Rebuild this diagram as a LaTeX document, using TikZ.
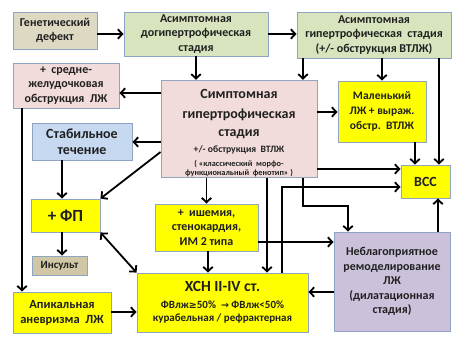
\documentclass[tikz,border=0pt]{standalone}
\usepackage{fontspec}
\setmainfont{Carlito}
\newfontfamily\symf{DejaVu Sans}
\usetikzlibrary{arrows.meta}
\definecolor{tanc}{HTML}{DDD9C3}
\definecolor{tanb}{HTML}{CFC7A6}
\definecolor{greenc}{HTML}{D7E4BD}
\definecolor{pinkc}{HTML}{F2DCDB}
\definecolor{bluec}{HTML}{C6D9F1}
\definecolor{yelc}{HTML}{FFFF00}
\definecolor{lavc}{HTML}{CCC1DA}
\definecolor{bordc}{HTML}{8EA4C2}
\definecolor{txtc}{HTML}{202020}
\newcommand{\fs}[2]{\fontsize{#1}{#2}\selectfont}
\begin{document}
\begin{tikzpicture}[x=1pt,y=-1pt,
  box/.style={draw=bordc, line width=0.9pt, align=center, text=txtc, inner sep=1pt,
    font=\bfseries\fs{12}{14.5}},
  arr/.style={line width=1.8pt, -{Straight Barb[length=4.5pt,width=9.5pt]}},
  darr/.style={line width=1.8pt, {Straight Barb[length=4.5pt,width=9.5pt]}-{Straight Barb[length=4.5pt,width=9.5pt]}}]
\path[use as bounding box, fill=white] (0,0) rectangle (462,343);

\node[box, fill=tanc, minimum width=84pt, minimum height=37pt] (gen) at (55,30.5) {Генетический\\дефект};
\node[box, fill=greenc, minimum width=144pt, minimum height=44pt] (asym1) at (196,34) {Асимптомная\\догипертрофическая\\стадия};
\node[box, fill=greenc, minimum width=154pt, minimum height=46pt] (asym2) at (374,35) {Асимптомная\\гипертрофическая\ \ стадия\\(+/- обструкция ВТЛЖ)};
\node[box, fill=pinkc, minimum width=106pt, minimum height=45pt] (obstr) at (66,85.5) {+\ \ средне-\\желудочковая\\обструкция\ \ ЛЖ};
\node[box, fill=pinkc, minimum width=156pt, minimum height=96pt, font=\bfseries\fs{14}{9}] (sympt) at (239,129) {\mbox{}\\[7.5pt]Симптомная\\[9pt]гипертрофическая\\[8pt]стадия\\[5.7pt]\fs{9.7}{9}+/- обструкция\ \ ВТЛЖ\\[4.6pt]\fs{8.3}{9}( «классический\ \ морфо-\\[0.3pt]\fs{8.3}{9}функциональный\ \ фенотип» )};
\node[box, fill=bluec, minimum width=100pt, minimum height=37pt, font=\bfseries\fs{14}{16.5}] (stab) at (82,141.5) {Стабильное\\течение};
\node[box, fill=yelc, minimum width=88pt, minimum height=61pt, font=\bfseries\fs{11.5}{15}] (small) at (382,111.5) {Маленький\\ЛЖ + выраж.\\обстр.\ \ ВТЛЖ};
\node[box, fill=yelc, minimum width=49pt, minimum height=33pt, font=\bfseries\fs{14}{16}] (vss) at (425.5,181.5) {ВСС};
\node[box, fill=yelc, minimum width=69pt, minimum height=33pt, font=\bfseries\fs{17}{19}] (fp) at (65.5,215.5) {+ ФП};
\node[box, fill=yelc, minimum width=103pt, minimum height=47pt] (isch) at (206.5,227.5) {+\ \ ишемия,\\стенокардия,\\ИМ 2 типа};
\node[box, fill=tanb, minimum width=55pt, minimum height=19pt, font=\bfseries\fs{11}{12}] (insult) at (59.5,265.5) {Инсульт};
\node[box, fill=lavc, minimum width=116pt, minimum height=99pt] (remod) at (392,281.5) {Неблагоприятное\\ремоделирование\\ЛЖ\\(дилатационная\\стадия)};
\node[box, fill=yelc, minimum width=171pt, minimum height=59pt, font=\bfseries\fs{15.5}{11}] (hsn) at (222.5,302.5) {ХСН II-IV ст.\\[6pt]\fs{11}{11}ФВлж{\symf\fs{9.5}{10}≥}50\%\ \ {\symf\fs{9.5}{10}→}\ ФВлж<50\%\\[2.5pt]\fs{11}{11}курабельная / рефрактерная};
\node[box, fill=yelc, minimum width=98pt, minimum height=41pt, font=\bfseries\fs{12.5}{15}] (apic) at (62,312.5) {Апикальная\\аневризма\ \ ЛЖ};

% connectors
\draw[arr] (gen.east |- asym1.west) -- (asym1.west);
\draw[arr] (asym1.east) -- (asym1.east -| asym2.west);
\draw[arr] (asym1.south) -- (asym1.south |- sympt.north);
\draw[arr] (asym2.south -| 303,0) -- (sympt.north -| 303,0);
\draw[arr] (asym2.south -| small.north) -- (small.north);
\draw[arr] (asym2.south -| 439,0) -- (vss.north -| 439,0);
\draw[arr] (sympt.west |- 0,93) -- (obstr.east |- 0,93);
\draw[arr] (sympt.east |- 0,112) -- (small.west |- 0,112);
\draw[arr] (sympt.west |- 0,142) -- (stab.east |- 0,142);
\draw[arr] (sympt.west |- 0,152) -- (fp.north east);
\draw[arr] (sympt.east |- 0,169) -- (vss.west |- 0,169);
\draw[arr] (sympt.south -| isch.north) -- (isch.north);
\draw[arr] (sympt.south -| 267,0) -- (hsn.north -| 267,0);
\draw[arr] (sympt.south -| 303,0) -- ++(0,28) -| (remod.north -| 348,0);
\draw[arr] (hsn.north -| 282,0) |- (vss.west |- 0,187);
\draw[arr] (isch.east |- 0,242) -- (remod.west |- 0,242);
\draw[arr] (remod.west |- 0,292) -- (hsn.east |- 0,292);
\draw[arr] (remod.north -| 438,0) -- (vss.south -| 438,0);
\draw[arr] (small.south -| 415,0) -- (vss.north -| 415,0);
\draw[arr] (isch.south -| 208,0) -- (hsn.north -| 208,0);
\draw[arr] (obstr.south -| 22,0) -- (apic.north -| 22,0);
\draw[arr] (stab.south -| 62,0) -- (fp.north -| 62,0);
\draw[arr] (fp.south -| 62,0) -- (insult.north -| 62,0);
\draw[darr] (fp.south east) -- (hsn.north west);
\draw[arr] (apic.east |- 0,312) -- (hsn.west |- 0,312);
\end{tikzpicture}
\end{document}
